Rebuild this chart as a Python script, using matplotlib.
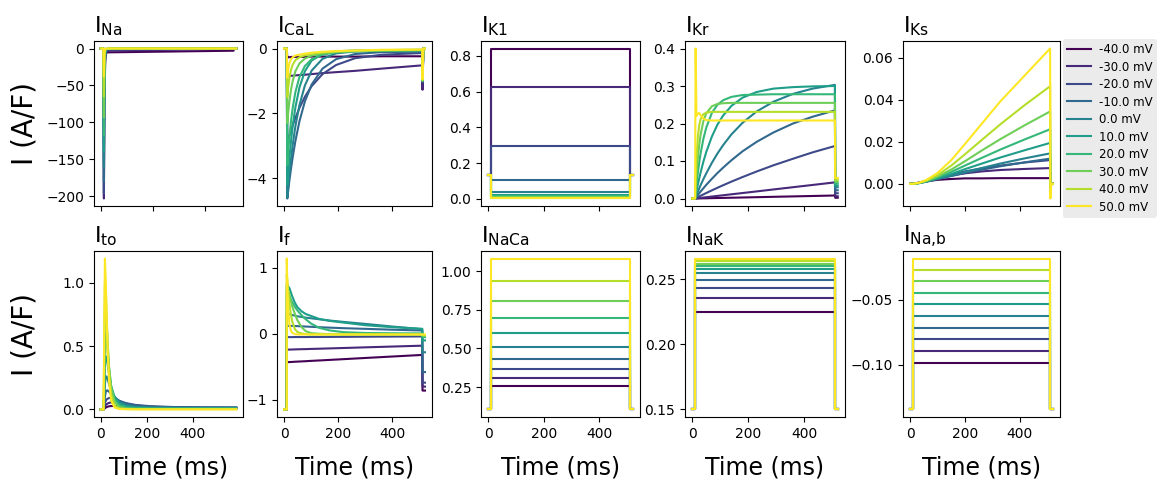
import numpy as np
import matplotlib
matplotlib.use("Agg")
import matplotlib.pyplot as plt

# step potentials (mV), holding segment 0-10 ms, step 10-510 ms
voltages = [-40, -30, -20, -10, 0, 10, 20, 30, 40, 50]

# ---- I_Na ----
ina_hold = 0.0
ina_t = [10, 12, 14, 17, 20, 30, 510]
ina_v = [
    [-1, -6, -6, -5.8, -5.6, -5.2, -3.0],
    [-5, -203, -70, -18, -6, -3, -0.5],
    [-5, -196, -60, -14, -4, -1.5, -0.2],
    [-5, -180, -50, -10, -3, -0.8, -0.1],
    [-5, -160, -40, -7, -2, -0.4, 0.0],
    [-4, -140, -30, -5, -1.2, -0.2, 0.0],
    [-3, -118, -22, -3, -0.8, -0.1, 0.0],
    [-2, -93, -15, -2, -0.5, 0.0, 0.0],
    [-1, -65, -9, -1, -0.3, 0.0, 0.0],
    [-0.5, -38, -5, -0.5, -0.1, 0.0, 0.0],
]

# ---- I_CaL ----
ical_hold = 0.0
ical_t = [10, 12, 16, 20, 26, 32, 42, 57, 77, 102, 142, 192, 262, 362, 510]
ical_v = [
    [0, -0.28, -0.27, -0.27, -0.26, -0.26, -0.26, -0.26, -0.26, -0.25, -0.25, -0.25, -0.25, -0.24, -0.24],
    [0, -0.85, -0.85, -0.845, -0.84, -0.84, -0.83, -0.82, -0.81, -0.79, -0.76, -0.73, -0.69, -0.62, -0.52],
    [0, -2.93, -2.81, -2.69, -2.53, -2.37, -2.14, -1.83, -1.49, -1.16, -0.79, -0.51, -0.30, -0.19, -0.14],
    [0, -4.63, -4.34, -4.06, -3.69, -3.35, -2.85, -2.24, -1.63, -1.11, -0.62, -0.33, -0.17, -0.11, -0.10],
    [0, -4.60, -4.22, -3.86, -3.39, -2.97, -2.39, -1.74, -1.14, -0.68, -0.32, -0.15, -0.09, -0.07, -0.06],
    [0, -4.20, -3.75, -3.35, -2.83, -2.39, -1.81, -1.20, -0.70, -0.37, -0.17, -0.09, -0.06, -0.05, -0.04],
    [0, -3.60, -3.12, -2.72, -2.22, -1.83, -1.34, -0.88, -0.54, -0.33, -0.19, -0.12, -0.09, -0.07, -0.06],
    [0, -2.30, -1.92, -1.62, -1.26, -1.00, -0.70, -0.46, -0.31, -0.22, -0.15, -0.11, -0.08, -0.06, -0.05],
    [0, -1.50, -1.15, -0.90, -0.65, -0.50, -0.36, -0.27, -0.21, -0.16, -0.12, -0.09, -0.07, -0.05, -0.04],
    [0, -0.90, -0.62, -0.45, -0.33, -0.27, -0.22, -0.19, -0.16, -0.13, -0.10, -0.08, -0.06, -0.04, -0.03],
]
ical_tail = [-1.27, -1.25, -1.05, -1.02, -1.0, -1.0, -1.0, -1.0, -0.97, -0.95]

# ---- I_K1 ----
ik1_hold = 0.13
ik1_level = [0.842, 0.624, 0.298, 0.104, 0.037, 0.022, 0.013, 0.007, 0.003, 0.001]

# ---- I_Kr ----
ikr_hold = 0.0
ikr_t = [10, 12, 15, 20, 25, 30, 40, 50, 70, 90, 110, 140, 180, 230, 290, 360, 430, 510]
ikr_v = [
    [0, 0, 0, 0.0002, 0.0002, 0.0003, 0.0005, 0.0006, 0.001, 0.0013, 0.0016, 0.0021, 0.0027, 0.0035, 0.0045, 0.0056, 0.0067, 0.008],
    [0, 0.0002, 0.0004, 0.0009, 0.0013, 0.0017, 0.0026, 0.0034, 0.0052, 0.0069, 0.0086, 0.0112, 0.0146, 0.0189, 0.0241, 0.0301, 0.0361, 0.043],
    [0, 0.0008, 0.0019, 0.0037, 0.0056, 0.0074, 0.011, 0.0146, 0.0217, 0.0286, 0.0353, 0.045, 0.0573, 0.072, 0.0885, 0.106, 0.123, 0.14],
    [0, 0.0019, 0.0048, 0.0095, 0.0142, 0.0187, 0.0276, 0.0363, 0.0525, 0.0679, 0.0821, 0.102, 0.126, 0.151, 0.176, 0.2, 0.218, 0.235],
    [0, 0.0038, 0.0093, 0.018, 0.027, 0.036, 0.052, 0.067, 0.095, 0.12, 0.142, 0.171, 0.202, 0.232, 0.258, 0.279, 0.293, 0.303],
    [0, 0.0078, 0.019, 0.0375, 0.054, 0.07, 0.099, 0.124, 0.165, 0.197, 0.221, 0.247, 0.269, 0.284, 0.293, 0.297, 0.299, 0.3],
    [0, 0.016, 0.037, 0.069, 0.097, 0.121, 0.16, 0.189, 0.228, 0.25, 0.262, 0.271, 0.276, 0.277, 0.278, 0.278, 0.278, 0.278],
    [0, 0.027, 0.062, 0.109, 0.144, 0.171, 0.207, 0.227, 0.246, 0.252, 0.254, 0.255, 0.255, 0.255, 0.255, 0.255, 0.255, 0.255],
    [0, 0.051, 0.107, 0.165, 0.196, 0.212, 0.225, 0.229, 0.231, 0.231, 0.231, 0.231, 0.231, 0.231, 0.231, 0.231, 0.231, 0.231],
    [0, 0.40, 0.22, 0.226, 0.228, 0.222, 0.213, 0.209, 0.208, 0.208, 0.208, 0.208, 0.208, 0.208, 0.208, 0.208, 0.208, 0.208],
]
ikr_tail = [0.002, 0.006, 0.014, 0.022, 0.03, 0.035, 0.04, 0.045, 0.05, 0.055]

# ---- I_Ks ----
iks_hold = 0.0
iks_t = [10, 30, 60, 100, 150, 200, 260, 330, 420, 510]
iks_v = [
    [0, 0.0005, 0.0012, 0.0019, 0.0023, 0.0026, 0.0026, 0.0027, 0.0027, 0.0027],
    [0, 0.0005, 0.0014, 0.0027, 0.004, 0.005, 0.0059, 0.0066, 0.0071, 0.0075],
    [0, 0.0004, 0.0014, 0.0028, 0.0044, 0.0059, 0.0073, 0.0087, 0.0102, 0.0113],
    [0, 0.0003, 0.0011, 0.0023, 0.0037, 0.0052, 0.0067, 0.0084, 0.0103, 0.012],
    [0, 0.0003, 0.001, 0.0023, 0.0039, 0.0057, 0.0075, 0.0097, 0.0122, 0.0145],
    [0, 0.0003, 0.0012, 0.0027, 0.0047, 0.007, 0.0096, 0.0126, 0.0161, 0.0195],
    [0, 0.0003, 0.0013, 0.0031, 0.0057, 0.0087, 0.0123, 0.0164, 0.0213, 0.026],
    [0, 0.0003, 0.0014, 0.0035, 0.0068, 0.0108, 0.0158, 0.0214, 0.0281, 0.0345],
    [0, 0.0004, 0.0016, 0.0042, 0.0087, 0.0141, 0.0208, 0.0285, 0.0378, 0.0465],
    [0, 0.0004, 0.0019, 0.0052, 0.0113, 0.0190, 0.0285, 0.0395, 0.052, 0.0645],
]
iks_tail = [-0.0002, -0.0005, -0.0008, -0.001, -0.0015, -0.002, -0.003, -0.004, -0.0055, -0.007]

# ---- I_to (longer record, no return step shown) ----
ito_hold = 0.0
ito_t = [12, 15, 18, 22, 26, 30, 36, 45, 60, 80, 110, 150, 220, 320, 450, 590]
ito_v = [
    [0, 0.004, 0.01, 0.015, 0.019, 0.022, 0.025, 0.027, 0.027, 0.025, 0.021, 0.017, 0.013, 0.011, 0.01, 0.01],
    [0, 0.01, 0.025, 0.035, 0.042, 0.047, 0.052, 0.055, 0.053, 0.047, 0.038, 0.029, 0.021, 0.016, 0.014, 0.013],
    [0, 0.02, 0.05, 0.07, 0.08, 0.085, 0.09, 0.09, 0.08, 0.066, 0.05, 0.036, 0.025, 0.019, 0.016, 0.015],
    [0, 0.04, 0.1, 0.14, 0.15, 0.15, 0.14, 0.12, 0.095, 0.07, 0.047, 0.032, 0.022, 0.017, 0.015, 0.015],
    [0, 0.07, 0.2, 0.26, 0.26, 0.24, 0.2, 0.15, 0.1, 0.06, 0.035, 0.022, 0.015, 0.013, 0.012, 0.012],
    [0, 0.12, 0.36, 0.42, 0.4, 0.35, 0.28, 0.18, 0.1, 0.05, 0.025, 0.015, 0.01, 0.009, 0.009, 0.009],
    [0, 0.2, 0.55, 0.6, 0.54, 0.45, 0.33, 0.19, 0.08, 0.035, 0.015, 0.009, 0.007, 0.006, 0.006, 0.006],
    [0, 0.3, 0.78, 0.78, 0.66, 0.52, 0.34, 0.17, 0.06, 0.02, 0.008, 0.005, 0.004, 0.004, 0.004, 0.004],
    [0, 0.45, 1.0, 0.92, 0.72, 0.52, 0.3, 0.12, 0.03, 0.008, 0.003, 0.002, 0.002, 0.002, 0.002, 0.002],
    [0, 0.6, 1.19, 1.0, 0.7, 0.45, 0.22, 0.07, 0.015, 0.004, 0.002, 0.001, 0.001, 0.001, 0.001, 0.001],
]

# ---- I_f ----
if_hold = -1.146
if_t = [10, 12, 15, 20, 25, 30, 40, 50, 65, 80, 100, 130, 170, 220, 300, 400, 510]
if_v = [
    [-0.43, -0.43, -0.429, -0.428, -0.427, -0.426, -0.423, -0.421, -0.418, -0.415, -0.41, -0.404, -0.395, -0.384, -0.366, -0.344, -0.32],
    [-0.24, -0.24, -0.239, -0.239, -0.238, -0.238, -0.236, -0.235, -0.233, -0.232, -0.229, -0.226, -0.221, -0.215, -0.205, -0.193, -0.18],
    [-0.05, -0.05, -0.05, -0.05, -0.05, -0.05, -0.049, -0.049, -0.049, -0.049, -0.048, -0.048, -0.047, -0.046, -0.044, -0.042, -0.04],
    [0.12, 0.12, 0.12, 0.12, 0.12, 0.12, 0.118, 0.116, 0.113, 0.11, 0.106, 0.1, 0.093, 0.085, 0.075, 0.062, 0.05],
    [0.3, 0.3, 0.3, 0.295, 0.29, 0.285, 0.275, 0.265, 0.255, 0.245, 0.235, 0.22, 0.2, 0.18, 0.15, 0.11, 0.07],
    [0.75, 0.74, 0.72, 0.69, 0.63, 0.57, 0.47, 0.4, 0.34, 0.3, 0.27, 0.225, 0.195, 0.17, 0.13, 0.1, 0.076],
    [0.62, 0.61, 0.6, 0.57, 0.52, 0.48, 0.41, 0.35, 0.28, 0.22, 0.155, 0.09, 0.05, 0.025, 0.012, 0.008, 0.006],
    [0.72, 0.7, 0.66, 0.6, 0.5, 0.42, 0.3, 0.2, 0.1, 0.04, 0.01, 0.0, -0.005, -0.01, -0.01, -0.01, -0.01],
    [0.9, 0.82, 0.66, 0.45, 0.3, 0.19, 0.07, 0.025, 0.005, -0.005, -0.01, -0.01, -0.01, -0.01, -0.01, -0.01, -0.01],
    [1.14, 0.75, 0.4, 0.14, 0.05, 0.015, -0.005, -0.01, -0.01, -0.01, -0.01, -0.01, -0.01, -0.01, -0.01, -0.01, -0.01],
]
if_tail = [-0.86, -0.8, -0.74, -0.58, -0.28, -0.1, -0.05, -0.03, -0.02, -0.01]

# ---- flat pumps / exchangers ----
inaca_hold = 0.105
inaca_level = [0.254, 0.306, 0.364, 0.434, 0.511, 0.598, 0.695, 0.81, 0.937, 1.082]
inak_hold = 0.15
inak_level = [0.2245, 0.2353, 0.2433, 0.2495, 0.2546, 0.2577, 0.26, 0.2618, 0.2635, 0.2657]
inab_hold = -0.1347
inab_level = [-0.0987, -0.0896, -0.0806, -0.0715, -0.0627, -0.0536, -0.0446, -0.0355, -0.0267, -0.0181]

titles = [r"I$_{\mathrm{Na}}$", r"I$_{\mathrm{CaL}}$", r"I$_{\mathrm{K1}}$", r"I$_{\mathrm{Kr}}$",
          r"I$_{\mathrm{Ks}}$", r"I$_{\mathrm{to}}$", r"I$_{\mathrm{f}}$", r"I$_{\mathrm{NaCa}}$",
          r"I$_{\mathrm{NaK}}$", r"I$_{\mathrm{Na{,}b}}$"]
yticks = [[-200, -150, -100, -50, 0], [-4, -2, 0], [0, 0.2, 0.4, 0.6, 0.8], [0, 0.1, 0.2, 0.3, 0.4],
          [0, 0.02, 0.04, 0.06], [0, 0.5, 1.0], [-1, 0, 1], [0.25, 0.5, 0.75, 1.0],
          [0.15, 0.2, 0.25], [-0.1, -0.05]]


def trace(hold, t_step, v_step, t_post=(), v_post=()):
    t = [0, 10] + list(t_step) + list(t_post)
    v = [hold, hold] + list(v_step) + list(v_post)
    return t, v


def flat(hold, level):
    return trace(hold, [10, 510], [level, level], [510, 520], [hold, hold])


def panel_traces(k, i):
    if k == 0:
        return trace(ina_hold, ina_t, ina_v[i], [510, 520], [ina_hold, ina_hold])
    if k == 1:
        return trace(ical_hold, ical_t, ical_v[i], [511, 514, 520], [ical_tail[i], 0, 0])
    if k == 2:
        return flat(ik1_hold, ik1_level[i])
    if k == 3:
        return trace(ikr_hold, ikr_t, ikr_v[i], [511, 520], [ikr_tail[i], ikr_tail[i]])
    if k == 4:
        return trace(iks_hold, iks_t, iks_v[i], [511, 514, 520], [iks_tail[i], 0, 0])
    if k == 5:
        return trace(ito_hold, ito_t, ito_v[i])
    if k == 6:
        return trace(if_hold, if_t, if_v[i], [511, 520], [if_tail[i], if_tail[i]])
    if k == 7:
        return flat(inaca_hold, inaca_level[i])
    if k == 8:
        return flat(inak_hold, inak_level[i])
    return flat(inab_hold, inab_level[i])


W, H = 1158, 482
fig = plt.figure(figsize=(W / 100, H / 100), dpi=100)

col_left = [94, 277, 481, 685, 903]
col_right = [243, 432, 640, 845, 1060]
row_top = [41, 251]
row_bot = [206, 417]

colors = plt.cm.viridis(np.linspace(0, 1, len(voltages)))

axes = []
for k in range(10):
    r, c = divmod(k, 5)
    ax = fig.add_axes([col_left[c] / W, 1 - row_bot[r] / H,
                       (col_right[c] - col_left[c]) / W, (row_bot[r] - row_top[r]) / H])
    for i, v in enumerate(voltages):
        t, y = panel_traces(k, i)
        ax.plot(t, y, color=colors[i], lw=1.5, label=f"{float(v):.1f} mV")
    ax.set_title(titles[k], loc="left", fontsize=16)
    ax.set_xticks([0, 200, 400])
    ax.set_yticks(yticks[k])
    ax.tick_params(labelsize=10)
    if r == 0:
        ax.set_xticklabels([])
    axes.append(ax)

for r in range(2):
    yc = 1 - (row_top[r] + row_bot[r]) / 2 / H
    fig.text(25 / W, yc, "I (A/F)", rotation=90, ha="center", va="center", fontsize=20)
for c in range(5):
    xc = (col_left[c] + col_right[c]) / 2 / W
    fig.text(xc, 1 - 467 / H, "Time (ms)", ha="center", va="center", fontsize=17)

handles, labels = axes[4].get_legend_handles_labels()
fig.legend(handles, labels, loc="upper left", bbox_to_anchor=(1063 / W, 1 - 39 / H),
           fontsize=8.5, facecolor="#ebebeb", edgecolor="none", framealpha=1,
           borderaxespad=0, borderpad=0.35, labelspacing=0.38, handlelength=2.0,
           handletextpad=0.7)

fig.savefig("out.png", dpi=100)
